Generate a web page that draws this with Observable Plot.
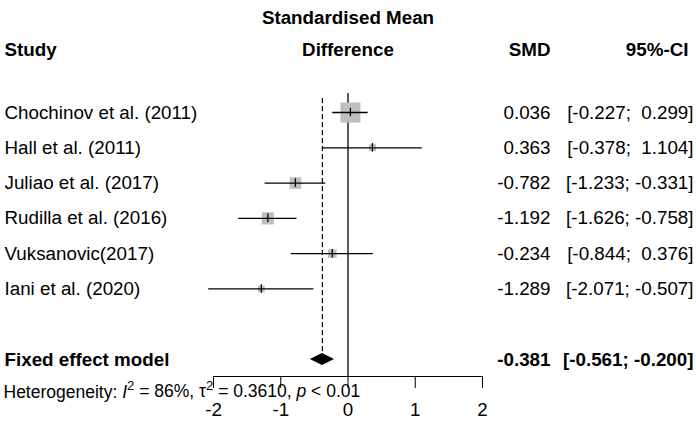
<!DOCTYPE html>
<html><head><meta charset="utf-8">
<script src="https://cdn.jsdelivr.net/npm/d3@7"></script>
<script src="https://cdn.jsdelivr.net/npm/@observablehq/plot@0.6"></script>
<style>
body{margin:0;background:#fff}
svg{font-family:"Liberation Sans",Arial,sans-serif}
</style>
</head><body><div id="chart"></div>
<script>
// ---- data ----
const studies = ["Chochinov et al. (2011)", "Hall et al. (2011)", "Juliao et al. (2017)", "Rudilla et al. (2016)", "Vuksanovic(2017)", "Iani et al. (2020)"];
const smd     = [0.036, 0.363, -0.782, -1.192, -0.234, -1.289];
const ciLower = [-0.227, -0.378, -1.233, -1.626, -0.844, -2.071];
const ciUpper = [0.299, 1.104, -0.331, -0.758, 0.376, -0.507];
const weights = [46.9, 5.9, 16.0, 17.2, 8.7, 5.3];   // % weight (fixed effect)
const pooledLabel = "Fixed effect model";
const pooledEst = -0.381, pooledLower = -0.561, pooledUpper = -0.200;
const xTicks = [-2, -1, 0, 1, 2];
const headTitle1 = "Standardised Mean", headTitle2 = "Difference";
const headStudy = "Study", headSMD = "SMD", headCI = "95%-CI";
const hetI2 = "86%", hetTau2 = "0.3610", hetP = "< 0.01";

// ---- table ----
const fmt = v => v.toFixed(3);
const ciText = (lo, hi) => `[${fmt(lo)};${hi < 0 ? " " : "\u00a0 "}${fmt(hi)}]`;
const rows = studies.map((s, i) => ({
  row: i, study: s, est: smd[i], lo: ciLower[i], hi: ciUpper[i], w: weights[i],
  smdTxt: fmt(smd[i]), ciTxt: ciText(ciLower[i], ciUpper[i])
}));
const pooledRow = studies.length + 1;
const pooled = [{row: pooledRow, label: pooledLabel, est: pooledEst, lo: pooledLower, hi: pooledUpper,
  smdTxt: fmt(pooledEst), ciTxt: ciText(pooledLower, pooledUpper)}];
const dh = 0.17;
const diamond = [
  {y: pooledRow - dh, x1: pooledEst, x2: pooledEst},
  {y: pooledRow, x1: pooledLower, x2: pooledUpper},
  {y: pooledRow + dh, x1: pooledEst, x2: pooledEst}
];
const hetPlaceholder = "HET";

const FS = 18.8;
const chart = Plot.plot({
  width: 696, height: 421,
  marginLeft: 213, marginRight: 214, marginTop: 93, marginBottom: 45,
  x: {domain: [-2, 2]},
  y: {domain: [0, pooledRow], range: [112, 359], axis: null},
  r: {type: "sqrt", domain: [0, d3.max(weights)], range: [0, 11.3]},
  style: {fontSize: FS + "px", fontFamily: "Liberation Sans, Arial, sans-serif", color: "black"},
  marks: [
    Plot.frame({anchor: "bottom", stroke: "black"}),
    Plot.axisX({ticks: xTicks, tickSize: 12, tickPadding: 14, fontSize: FS, tickFormat: d => d < 0 ? "-" + Math.abs(d) : String(d), stroke: "black"}),
    Plot.ruleX([0], {stroke: "black", strokeWidth: 1.3}),
    Plot.ruleX(pooled, {x: "est", y1: -0.4, y2: pooledRow, stroke: "black", strokeDasharray: "5,3", strokeWidth: 1.2}),
    Plot.dot(rows, {x: "est", y: "row", r: "w", symbol: "square", fill: "#bfbfbf", stroke: "none"}),
    Plot.ruleY(rows, {y: "row", x1: "lo", x2: "hi", stroke: "black", strokeWidth: 1.3}),
    Plot.ruleX(rows, {x: "est", y1: d => d.row - 0.12, y2: d => d.row + 0.12, stroke: "black", strokeWidth: 1.3}),
    Plot.areaX(diamond, {y: "y", x1: "x1", x2: "x2", fill: "black", curve: "linear"}),
    // study labels & numbers
    Plot.text(rows, {y: "row", text: "study", frameAnchor: "left", dx: -209, textAnchor: "start"}),
    Plot.text(rows, {y: "row", text: "smdTxt", frameAnchor: "right", dx: 68, textAnchor: "end"}),
    Plot.text(rows, {y: "row", text: "ciTxt", frameAnchor: "right", dx: 211, textAnchor: "end"}),
    Plot.text(pooled, {y: "row", text: "label", frameAnchor: "left", dx: -209, textAnchor: "start", fontWeight: "bold"}),
    Plot.text(pooled, {y: "row", text: "smdTxt", frameAnchor: "right", dx: 68, textAnchor: "end", fontWeight: "bold"}),
    Plot.text(pooled, {y: "row", text: "ciTxt", frameAnchor: "right", dx: 211, textAnchor: "end", fontWeight: "bold"}),
    // headers
    Plot.text([headTitle1], {frameAnchor: "top", dy: -83, fontWeight: "bold"}),
    Plot.text([headTitle2], {frameAnchor: "top", dy: -51, fontWeight: "bold"}),
    Plot.text([headStudy], {frameAnchor: "top-left", dx: -209, dy: -51, textAnchor: "start", fontWeight: "bold"}),
    Plot.text([headSMD], {frameAnchor: "top-right", dx: 68, dy: -51, textAnchor: "end", fontWeight: "bold"}),
    Plot.text([headCI], {frameAnchor: "top-right", dx: 206, dy: -51, textAnchor: "end", fontWeight: "bold"}),
    // heterogeneity
    Plot.text([hetPlaceholder], {frameAnchor: "bottom-left", dx: -210, dy: 21, textAnchor: "start", fontSize: 17.5})
  ]
});
document.getElementById("chart").appendChild(chart);

// rich heterogeneity text
d3.select(chart).selectAll("text").filter(function(){ return this.textContent === hetPlaceholder; }).each(function(){
  const t = d3.select(this); t.text("");
  const parts = [
    ["Heterogeneity: "], ["I", "italic"], ["2", "sup"], [" = " + hetI2 + ", \u03c4"], ["2", "sup"],
    [" = " + hetTau2 + ", "], ["p", "italic"], [" " + hetP]
  ];
  let raised = false;
  for (const [s, k] of parts) {
    const ts = t.append("tspan").text(s);
    if (k === "italic") ts.attr("font-style", "italic");
    if (k === "sup") { ts.attr("font-size", "0.75em").attr("dy", "-0.55em"); raised = true; }
    else if (raised) { ts.attr("dy", "0.41em"); raised = false; }
  }
  t.style("white-space", "pre");
});
</script>
</body></html>
